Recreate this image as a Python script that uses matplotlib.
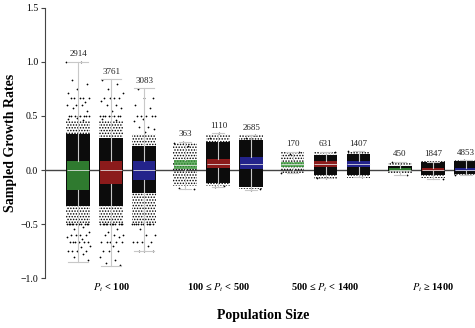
import matplotlib.pyplot as plt
import numpy as np

plt.rcParams["font.family"] = ["Liberation Serif", "DejaVu Serif"]
plt.rcParams["mathtext.fontset"] = "stix"
plt.rcParams["hatch.linewidth"] = 0.7

# Population size classes and the three series (green, red, blue) in each
size_classes = ["$P_t$ < 100", "100 ≤ $P_t$ < 500",
                "500 ≤ $P_t$ < 1400", "$P_t$ ≥ 1400"]
series_colors = ["#3a9a3a", "#b02020", "#2a2ab0"]

# Sample sizes (one per box, class by class)
counts = [2914, 3761, 3083, 363, 1110, 2685, 170, 631, 1407, 450, 1847, 4853]

# Box statistics
q1 = [-0.185, -0.13, -0.093, 0.006, 0.015, 0.006, 0.031, 0.03, 0.03, -0.012, -0.012, -0.012]
q3 = [0.086, 0.086, 0.08, 0.093, 0.10, 0.117, 0.077, 0.086, 0.086, 0.018, 0.018, 0.018]
medians = [0.0, 0.0, 0.0, 0.05, 0.055, 0.06, 0.055, 0.058, 0.058, 0.003, 0.003, 0.003]
whis_lo = [-0.85, -0.89, -0.75, -0.18, -0.155, -0.185, -0.03, -0.075, -0.06, -0.046, -0.086, -0.046]
whis_hi = [1.0, 0.84, 0.756, 0.26, 0.34, 0.324, 0.17, 0.17, 0.176, 0.077, 0.077, 0.093]

# Extent of the dense (solid) part of each point cloud and of its looser halo
dense_lo = [-0.33, -0.33, -0.21, 0.0, -0.12, -0.16, 0.0, -0.05, -0.05, -0.01, -0.05, -0.04]
dense_hi = [0.33, 0.30, 0.22, 0.0, 0.26, 0.28, 0.0, 0.14, 0.15, 0.04, 0.07, 0.08]
halo_lo = [-0.5, -0.5, -0.5, -0.15, -0.15, -0.18, -0.03, -0.08, -0.07, -0.04, -0.07, -0.05]
halo_hi = [0.45, 0.45, 0.33, 0.25, 0.33, 0.32, 0.17, 0.17, 0.17, 0.07, 0.08, 0.09]

# Sparse points outside the halo (approximate readings)
sparse_pts = [
    [1.0, 1.0, 0.83, 0.8, 0.75, 0.71, 0.67, 0.67, 0.67, 0.67, 0.67, 0.63, 0.6, 0.6, 0.6,
     0.57, 0.55, 0.5, 0.5, 0.5, 0.5, 0.5, 0.5, 0.5, 0.5, 0.48, 0.47, 0.46,
     -0.5, -0.5, -0.5, -0.5, -0.5, -0.5, -0.5, -0.5, -0.5, -0.5, -0.5, -0.5,
     -0.53, -0.55, -0.57, -0.6, -0.6, -0.6, -0.6, -0.62, -0.64, -0.67, -0.67, -0.67,
     -0.67, -0.67, -0.67, -0.7, -0.71, -0.75, -0.75, -0.75, -0.75, -0.78, -0.8, -0.83],
    [0.83, 0.8, 0.75, 0.71, 0.67, 0.67, 0.67, 0.67, 0.64, 0.6, 0.6, 0.57, 0.55, 0.5, 0.5,
     0.5, 0.5, 0.5, 0.5, 0.5, 0.5, 0.47, 0.46,
     -0.5, -0.5, -0.5, -0.5, -0.5, -0.5, -0.5, -0.5, -0.5, -0.5, -0.5, -0.5,
     -0.55, -0.57, -0.6, -0.6, -0.6, -0.62, -0.67, -0.67, -0.67, -0.67, -0.67, -0.7,
     -0.75, -0.75, -0.75, -0.8, -0.83, -0.86, -0.88],
    [0.75, 0.67, 0.67, 0.6, 0.57, 0.5, 0.5, 0.5, 0.5, 0.5, 0.47, 0.45, 0.4, 0.4, 0.38, 0.35,
     -0.5, -0.5, -0.5, -0.5, -0.5, -0.5, -0.5, -0.5, -0.5, -0.5,
     -0.55, -0.6, -0.6, -0.67, -0.67, -0.67, -0.67, -0.7, -0.75, -0.75, -0.75],
    [0.26, 0.25, 0.22, -0.17, -0.18],
    [0.34, 0.3, -0.15, -0.155],
    [0.324, 0.3, -0.18, -0.185],
    [0.17, 0.15, -0.03],
    [0.17, -0.07, -0.075],
    [0.176, -0.06],
    [0.077, -0.046],
    [0.077, -0.086],
    [0.093, -0.046],
]

# x positions: three series side by side, classes spaced apart
positions = np.array([g * 3.25 + k for g in range(4) for k in range(3)])
cloud_w = 0.72

fig = plt.figure(figsize=(4.75, 3.28), dpi=100)
ax = fig.add_axes([0.095, 0.152, 0.905, 0.824])

ax.axhline(0, color="#444444", linewidth=1.0, zorder=0.5)

# point clouds: speckled halo, dense core, sparse points
ax.bar(positions, np.array(halo_hi) - np.array(halo_lo), bottom=halo_lo,
       width=cloud_w, facecolor="none", edgecolor="black", hatch="......",
       linewidth=0, zorder=1)
ax.bar(positions, np.array(dense_hi) - np.array(dense_lo), bottom=dense_lo,
       width=cloud_w, facecolor="#0c0c0c", linewidth=0, zorder=1.2)
golden = 0.6180339887
for i, pts in enumerate(sparse_pts):
    pts = np.array(pts)
    jitter = ((np.arange(len(pts)) * golden + 0.13 * i) % 1.0 - 0.5) * cloud_w
    ax.scatter(positions[i] + jitter, pts, s=1.6, color="black", linewidths=0, zorder=1.5)

# box plots from the read statistics
stats = []
for i in range(len(counts)):
    stats.append(dict(med=medians[i], q1=q1[i], q3=q3[i],
                      whislo=whis_lo[i], whishi=whis_hi[i], fliers=[]))
capw = [0.6] * 3 + [0.36] * 9
bp = ax.bxp(stats, positions=positions, widths=0.68, patch_artist=True,
            showfliers=False, capwidths=capw,
            boxprops=dict(linewidth=0),
            whiskerprops=dict(color="#c8c8c8", linewidth=0.8),
            capprops=dict(color="#c8c8c8", linewidth=0.8),
            medianprops=dict(color="#e8e8e8", linewidth=0.7, alpha=0.8),
            zorder=3)
for i, box in enumerate(bp["boxes"]):
    box.set_facecolor(series_colors[i % 3])
    box.set_alpha(0.78)

# sample size labels
for i, n in enumerate(counts):
    ax.annotate(str(n), (positions[i], whis_hi[i]), xytext=(0, 2.5),
                textcoords="offset points", ha="center", va="bottom",
                fontsize=6.5, color="#222222")

ax.set_xlim(-1.0, 12.03)
ax.set_ylim(-1.0, 1.5)
ax.set_yticks([-1.0, -0.5, 0.0, 0.5, 1.0, 1.5])
ax.tick_params(axis="y", labelsize=7, length=3, width=0.8, color="#444444", pad=2)
ax.set_xticks([])
for side in ["top", "right", "bottom"]:
    ax.spines[side].set_visible(False)
ax.spines["left"].set_color("#444444")

# class labels below the axis
centers = [g * 3.25 + 1 for g in range(4)]
for c, lab in zip(centers, size_classes):
    ax.text(c, -1.086, lab, ha="center", va="center", fontsize=7.5,
            fontweight="bold")

ax.set_ylabel("Sampled Growth Rates", fontsize=10, fontweight="bold")
ax.yaxis.set_label_coords(-(45 - 17) / 430, 0.5)
fig.text(263 / 475, 1 - 316 / 328, "Population Size", ha="center", va="center",
         fontsize=10, fontweight="bold")

fig.savefig("out.png", dpi=100)
